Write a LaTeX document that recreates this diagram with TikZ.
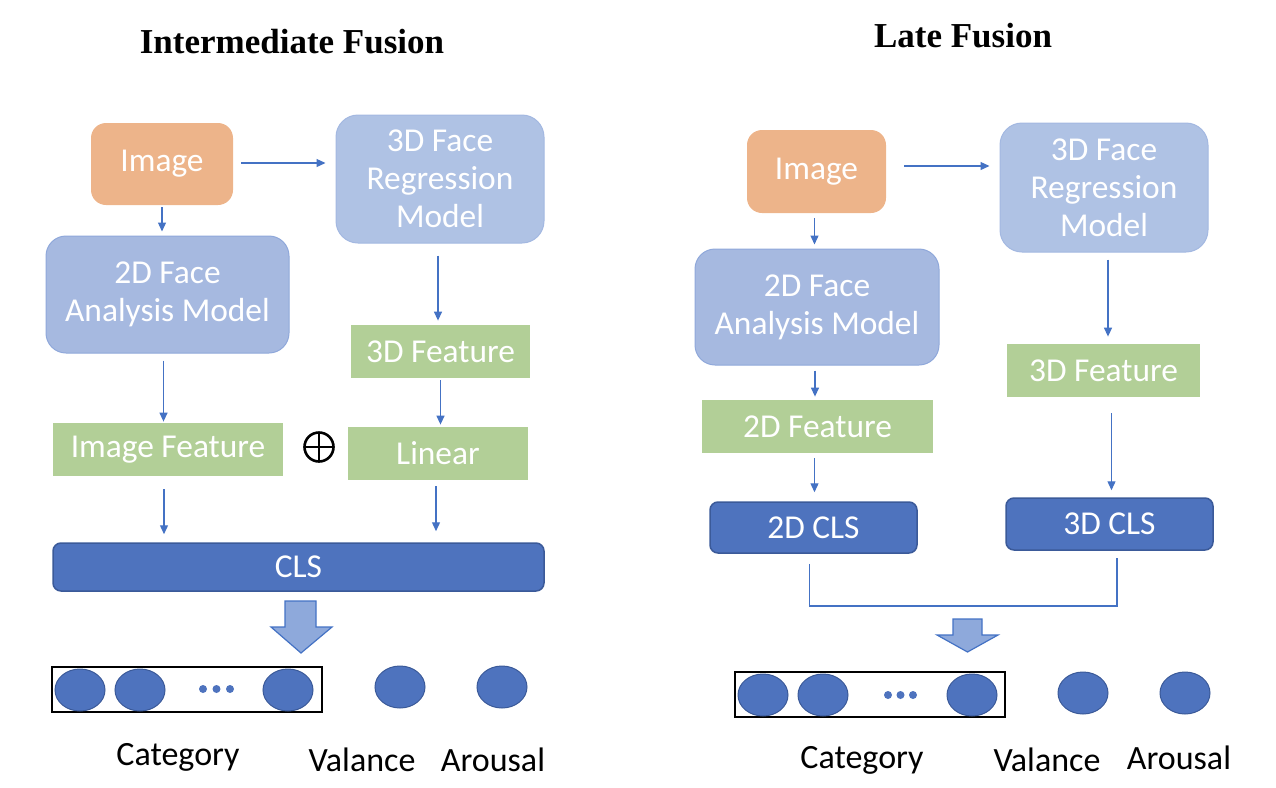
\documentclass[tikz,border=0pt]{standalone}
\usepackage{fontspec}
\setmainfont{Carlito}
\newfontfamily\titlefont{Liberation Serif}
\usetikzlibrary{arrows.meta,shapes.geometric,calc}

\definecolor{imgorange}{HTML}{EDB48A}
\definecolor{regblue}{HTML}{AFC2E4}
\definecolor{regline}{HTML}{A3B8E1}
\definecolor{anablue}{HTML}{A6B9E0}
\definecolor{analine}{HTML}{8FA8DA}
\definecolor{featgreen}{HTML}{B2CF97}
\definecolor{clsblue}{HTML}{4E73BE}
\definecolor{clsline}{HTML}{3B5A99}
\definecolor{arrblue}{HTML}{4472C4}
\definecolor{bigfill}{HTML}{8EA9DB}

\tikzset{
  base/.style={text=white, inner sep=0pt, align=center,
    font=\fontsize{16.7}{19}\selectfont},
  imgbox/.style={base, fill=imgorange, rounded corners=7.5pt},
  regbox/.style={base, fill=regblue, draw=regline, line width=0.5pt, rounded corners=11pt},
  anabox/.style={base, fill=anablue, draw=analine, line width=0.5pt, rounded corners=10pt},
  featbox/.style={base, fill=featgreen},
  clsbox/.style={base, fill=clsblue, draw=clsline, line width=0.75pt, rounded corners=4pt},
  outnode/.style={ellipse, fill=clsblue, draw=clsline, line width=0.5pt,
    minimum width=25pt, minimum height=21pt, inner sep=0pt},
  dotnode/.style={circle, fill=clsblue, minimum size=4pt, inner sep=0pt},
  groupbox/.style={draw=black, line width=1pt, minimum width=135pt, minimum height=22.5pt, inner sep=0pt},
  plusnode/.style={circle, draw=black, line width=1.3pt, minimum size=14.5pt, inner sep=0pt,
    path picture={\draw[line width=1.3pt] (path picture bounding box.north) -- (path picture bounding box.south)
      (path picture bounding box.west) -- (path picture bounding box.east);}},
  arr/.style={-{Triangle[length=4.5pt,width=4pt]}, draw=arrblue, line width=0.65pt},
  bigarrow/.style={fill=bigfill, draw=arrblue, line width=0.6pt, line join=miter},
  lbl/.style={font=\fontsize{17}{20}\selectfont, text=black, inner sep=0pt},
  ttl/.style={font=\titlefont\bfseries\fontsize{17.5}{20}\selectfont, inner sep=0pt}
}

\begin{document}
\begin{tikzpicture}[x=0.5pt,y=-0.5pt]
  \useasboundingbox (0,0) rectangle (1276,788);

  % ---- intermediate fusion
  \node[ttl, anchor=base] (ttlL) at (292,53) {Intermediate Fusion};
  \node[imgbox, minimum width=71pt, minimum height=41pt] (imgL) at (162,164) {Image};
  \node[regbox, minimum width=104pt, minimum height=64pt] (regL) at (440,179) {3D Face\\Regression\\Model};
  \node[anabox, minimum width=121.5pt, minimum height=58.5pt] (anaL) at (167.5,294.5) {2D Face\\Analysis Model};
  \node[featbox, minimum width=89.5pt, minimum height=26.5pt] (f3L) at (440.5,351.5) {3D Feature};
  \node[featbox, minimum width=115pt, minimum height=26.5pt] (ifL) at (168,449.5) {Image Feature};
  \node[featbox, minimum width=90pt, minimum height=26.5pt] (linL) at (438,453.5) {Linear};
  \node[plusnode] (plusL) at (319,447) {};
  \node[clsbox, minimum width=245.5pt, minimum height=24pt] (clsL) at (298.5,567) {CLS};

  \draw[arr] ([xshift=4pt]imgL.east |- 0,163) -- ([xshift=-5pt]regL.west |- 0,163);
  \draw[arr] ([yshift=-1pt]imgL.south) -- ([yshift=2pt]imgL.south |- anaL.north);
  \draw[arr] ([xshift=-1pt,yshift=-6pt]regL.south) -- ([xshift=-1pt,yshift=2pt]regL.south |- f3L.north);
  \draw[arr] ([xshift=-2pt,yshift=-3.5pt]anaL.south) -- ([xshift=-2pt,yshift=0.5pt]anaL.south |- ifL.north);
  \draw[arr] ([yshift=-1pt]f3L.south) -- ([yshift=1pt]f3L.south |- linL.north);
  \draw[arr] ([xshift=-2pt,yshift=-6.5pt]ifL.south) -- ([xshift=-2pt,yshift=4pt]ifL.south |- clsL.north);
  \draw[arr] ([xshift=-1pt,yshift=-3pt]linL.south) -- ([xshift=-1pt,yshift=5.5pt]linL.south |- clsL.north);

  \draw[bigarrow] (285,601) -- (316,601) -- (316,627) -- (332,627) -- (301,653)
    -- (271,627) -- (285,627) -- cycle;

  \node[groupbox] (catL) at (187,689.5) {};
  \node[outnode] (c1L) at (80,690) {};
  \node[outnode] (c2L) at (140,690) {};
  \node[outnode] (c3L) at (288,690) {};
  \foreach \x in {203,216.5,230} \node[dotnode] at (\x,689) {};
  \node[outnode] (valL) at (400,687) {};
  \node[outnode] (aroL) at (502,687) {};
  \node[lbl] (catlblL) at (178,757) {Category};
  \node[lbl] (vallblL) at (362,760) {Valance};
  \node[lbl] (arolblL) at (493,760) {Arousal};

  % ---- late fusion
  \node[ttl, anchor=base] (ttlR) at (963,47) {Late Fusion};
  \node[imgbox, minimum width=69.5pt, minimum height=41.5pt] (imgR) at (816.5,171.5) {Image};
  \node[regbox, minimum width=104pt, minimum height=64.5pt] (regR) at (1104,187.5) {3D Face\\Regression\\Model};
  \node[anabox, minimum width=122pt, minimum height=58pt] (anaR) at (817,307) {2D Face\\Analysis Model};
  \node[featbox, minimum width=96.5pt, minimum height=26.5pt] (f3R) at (1103.5,370.5) {3D Feature};
  \node[featbox, minimum width=115.5pt, minimum height=26.5pt] (f2R) at (817.5,426.5) {2D Feature};
  \node[clsbox, minimum width=103.5pt, minimum height=25.5pt] (cls2R) at (813.5,527.5) {2D CLS};
  \node[clsbox, minimum width=103.5pt, minimum height=26pt] (cls3R) at (1109.5,524) {3D CLS};

  \draw[arr] ([xshift=9pt]imgR.east |- 0,166) -- ([xshift=-5pt]regR.west |- 0,166);
  \draw[arr] ([xshift=-1pt,yshift=-2.5pt]imgR.south) -- ([xshift=-1pt,yshift=2pt]imgR.south |- anaR.north);
  \draw[arr] ([xshift=2pt,yshift=-3.5pt]regR.south) -- ([xshift=2pt,yshift=3.5pt]regR.south |- f3R.north);
  \draw[arr] ([xshift=-1pt,yshift=-2.5pt]anaR.south) -- ([xshift=-1pt,yshift=1.5pt]anaR.south |- f2R.north);
  \draw[arr] ([xshift=-1.5pt,yshift=-2.5pt]f2R.south) -- ([xshift=-1.5pt,yshift=4.5pt]f2R.south |- cls2R.north);
  \draw[arr] ([xshift=4pt,yshift=-8pt]f3R.south) -- ([xshift=4pt,yshift=3.5pt]f3R.south |- cls3R.north);
  \draw[draw=arrblue, line width=0.65pt] ([xshift=-2pt,yshift=-5pt]cls2R.south)
    -- ([xshift=-2pt]cls2R.south |- 0,606) -- ([xshift=3.75pt]cls3R.south |- 0,606)
    -- ([xshift=3.75pt,yshift=-3.5pt]cls3R.south);

  \draw[bigarrow] (953,619) -- (982,619) -- (982,635) -- (998,635) -- (967.5,652)
    -- (937,635) -- (953,635) -- cycle;

  \node[groupbox] (catR) at (870,694.5) {};
  \node[outnode] (c1R) at (763,695) {};
  \node[outnode] (c2R) at (823,695) {};
  \node[outnode] (c3R) at (972,695) {};
  \foreach \x in {888,900.5,913} \node[dotnode] at (\x,695) {};
  \node[outnode] (valR) at (1083,693) {};
  \node[outnode] (aroR) at (1185,693) {};
  \node[lbl] (catlblR) at (862,760) {Category};
  \node[lbl] (vallblR) at (1047,760) {Valance};
  \node[lbl] (arolblR) at (1179,758) {Arousal};
\end{tikzpicture}
\end{document}
